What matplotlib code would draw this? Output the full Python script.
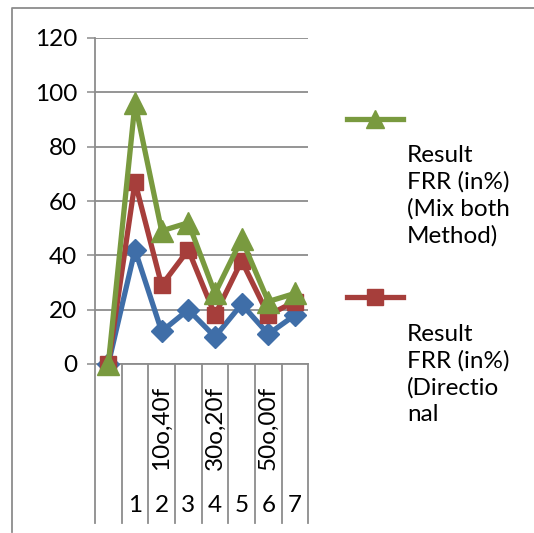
import matplotlib
matplotlib.use("Agg")
import matplotlib.pyplot as plt
from matplotlib import transforms
from matplotlib.lines import Line2D

# --- data ---
categories = ["", "1", "2", "3", "4", "5", "6", "7"]
group_labels = ["", "", "10o,40f", "", "30o,20f", "", "50o,00f", ""]
series_blue = [0, 42, 12, 20, 10, 22, 11, 18]
series_red = [0, 67, 29, 42, 18, 38, 18, 23]
series_green = [0, 96, 49, 52, 26, 46, 23, 26]
legend_green = "Result\nFRR (in%)\n(Mix both\nMethod)"
legend_red = "Result\nFRR (in%)\n(Directio\nnal"
y_ticks = [0, 20, 40, 60, 80, 100, 120]

BLUE = "#3F6EA8"
RED = "#A63E3B"
GREEN = "#799A3F"
GRID = "#8C8C8C"
FONT = "Lato"

plt.rcParams["font.family"] = [FONT, "DejaVu Sans"]

W, H = 534, 533
fig = plt.figure(figsize=(W / 100, H / 100), dpi=100)

# plot area in pixels: x 95..308, y 38..364
ax = fig.add_axes([95 / W, (H - 364) / H, 213.3 / W, 326 / H])
x = list(range(len(categories)))

ax.plot(x, series_blue, color=BLUE, lw=3.8, marker="D", ms=11, clip_on=False, zorder=3)
ax.plot(x, series_red, color=RED, lw=3.8, marker="s", ms=12, clip_on=False, zorder=4)
ax.plot(x, series_green, color=GREEN, lw=3.8, marker="^", ms=16, clip_on=False, zorder=5)

ax.set_xlim(-0.5, len(categories) - 0.5)
ax.set_ylim(0, 120)
ax.set_yticks(y_ticks)
ax.set_yticklabels([str(v) for v in y_ticks], fontsize=17.5)
ax.yaxis.grid(True, color=GRID, lw=1.3)
ax.set_axisbelow(True)
ax.tick_params(axis="y", length=6, width=1.1, color=GRID, pad=7, direction="out")
ax.set_xticks([])
for side in ["top", "right"]:
    ax.spines[side].set_visible(False)
for side in ["left", "bottom"]:
    ax.spines[side].set_color(GRID)
    ax.spines[side].set_linewidth(1.3)

# multi-level category axis
trans = transforms.blended_transform_factory(ax.transData, ax.transAxes)
bottom_y = -(523 - 364) / 326
for b in [i - 0.5 for i in range(len(categories) + 1)]:
    ax.plot([b, b], [0, bottom_y], color=GRID, lw=1.3, transform=trans, clip_on=False)
for i, lab in enumerate(group_labels):
    if lab:
        ax.text(i, -(470 - 364) / 326, lab, transform=trans, rotation=90,
                ha="center", va="bottom", fontsize=17.5)
for i, lab in enumerate(categories):
    if lab:
        ax.text(i, -(506 - 364) / 326, lab, transform=trans,
                ha="center", va="center", fontsize=17.5)

# chart frame (top and left edges visible)
fig.add_artist(Line2D([12 / W, 12 / W, 1], [(H - 532) / H, (H - 8) / H, (H - 8) / H],
                      color=GRID, lw=1.3, transform=fig.transFigure))

# legend drawn like the clipped Excel legend
for color, marker, ms, ly, text, ty in [
    (GREEN, "^", 13, 119, legend_green, 145),
    (RED, "s", 11, 297, legend_red, 324),
]:
    fig.add_artist(Line2D([347 / W, 403 / W], [(H - ly) / H] * 2, color=color, lw=3.8,
                          transform=fig.transFigure))
    fig.add_artist(Line2D([375 / W], [(H - ly) / H], color=color, marker=marker, ms=ms,
                          transform=fig.transFigure))
    fig.text(407 / W, (H - ty) / H, text, ha="left", va="top", fontsize=17.5,
             linespacing=1.3)

fig.savefig("out.png", dpi=100)
